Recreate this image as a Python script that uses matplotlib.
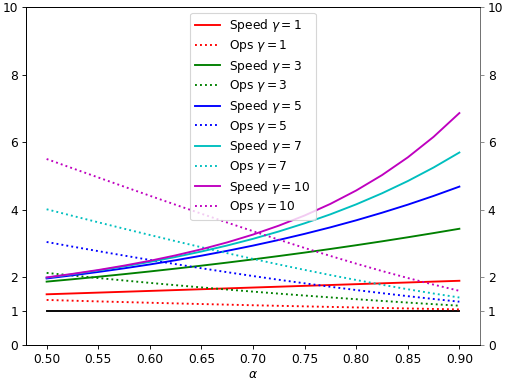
import numpy as np
import matplotlib
matplotlib.use('Agg')
import matplotlib.pyplot as plt

alphas = [0.500, 0.525, 0.550, 0.575, 0.600, 0.625, 0.650, 0.675, 0.700,
          0.725, 0.750, 0.775, 0.800, 0.825, 0.850, 0.875, 0.900]
gammas = [1, 3, 5, 7, 10]
colors = ['r', 'g', 'b', 'c', 'm']

# values, one row per gamma
speed = [
    [1.500, 1.525, 1.550, 1.575, 1.600, 1.625, 1.650, 1.675, 1.700,
     1.725, 1.750, 1.775, 1.800, 1.825, 1.850, 1.875, 1.900],
    [1.875, 1.945, 2.019, 2.096, 2.176, 2.260, 2.347, 2.438, 2.533,
     2.632, 2.734, 2.841, 2.952, 3.067, 3.187, 3.311, 3.439],
    [1.969, 2.061, 2.161, 2.268, 2.383, 2.508, 2.642, 2.786, 2.941,
     3.108, 3.288, 3.481, 3.689, 3.913, 4.152, 4.410, 4.686],
    [1.992, 2.093, 2.204, 2.325, 2.458, 2.605, 2.766, 2.944, 3.141,
     3.359, 3.600, 3.866, 4.161, 4.488, 4.850, 5.251, 5.695],
    [1.999, 2.104, 2.219, 2.348, 2.491, 2.652, 2.832, 3.036, 3.267,
     3.531, 3.831, 4.175, 4.571, 5.026, 5.551, 6.158, 6.862],
]
ops = [
    [1.333, 1.311, 1.290, 1.270, 1.250, 1.231, 1.212, 1.194, 1.176,
     1.159, 1.143, 1.127, 1.111, 1.096, 1.081, 1.067, 1.053],
    [2.133, 2.056, 1.981, 1.909, 1.838, 1.770, 1.704, 1.641, 1.579,
     1.520, 1.463, 1.408, 1.355, 1.304, 1.255, 1.208, 1.163],
    [3.048, 2.911, 2.777, 2.646, 2.517, 2.393, 2.271, 2.154, 2.040,
     1.930, 1.825, 1.723, 1.626, 1.534, 1.445, 1.361, 1.281],
    [4.016, 3.822, 3.630, 3.441, 3.255, 3.072, 2.892, 2.717, 2.547,
     2.382, 2.223, 2.069, 1.923, 1.783, 1.649, 1.523, 1.405],
    [5.503, 5.229, 4.957, 4.686, 4.416, 4.149, 3.884, 3.623, 3.367,
     3.116, 2.871, 2.635, 2.407, 2.189, 1.982, 1.786, 1.603],
]
baseline = [1.0] * len(alphas)
yticks = [0, 1, 2, 4, 6, 8, 10]

plt.rcParams['font.size'] = 11
fig = plt.figure(figsize=(507 / 80, 383 / 80), dpi=80)
ax = fig.add_axes([26 / 507, 38 / 383, 454 / 507, 338 / 383])

ax.plot(alphas, baseline, color='k', lw=1.7)
for it, g in enumerate(gammas):
    ax.plot(alphas, speed[it], color=colors[it], linestyle='-', lw=1.7, label=r'Speed $\gamma = %d$' % g)
    ax.plot(alphas, ops[it], color=colors[it], linestyle=':', lw=1.7, label=r'Ops $\gamma = %d$' % g)

ax.set_ylim(0, 10)
ax.set_yticks(yticks)
ax.set_xticks(np.arange(0.50, 0.901, 0.05))
ax.set_xlabel(r'$\alpha$', labelpad=2)
ax.legend(loc='upper center', labelspacing=0.3, borderaxespad=0.45)

ax2 = ax.twinx()
ax2.set_ylim(0, 10)
ax2.set_yticks(yticks)
ax2.spines['right'].set_color('gray')
ax2.tick_params(axis='y', colors='gray', labelcolor='k')

fig.savefig('out.png', dpi=80)
